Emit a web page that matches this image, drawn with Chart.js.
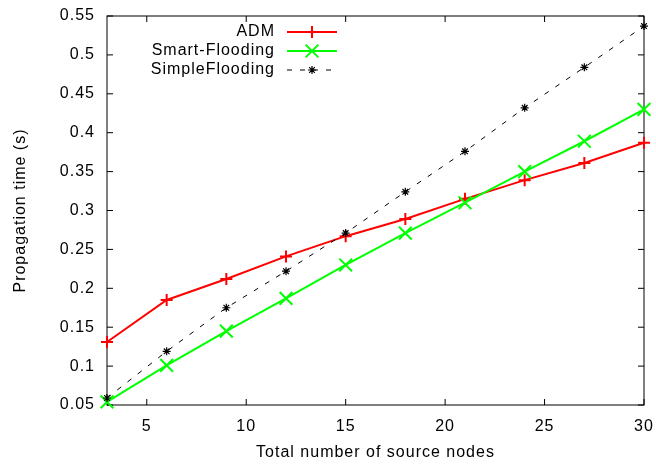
<!DOCTYPE html>
<html>
<head>
<meta charset="utf-8">
<script src="https://cdn.jsdelivr.net/npm/chart.js@4.4.0/dist/chart.umd.min.js"></script>
<style>
  html, body { margin: 0; padding: 0; background: #fff; }
</style>
</head>
<body>
<canvas id="chart" width="656" height="466"></canvas>
<script>
const sourceNodes = [3, 6, 9, 12, 15, 18, 21, 24, 27, 30];
const admTime = [0.131, 0.185, 0.212, 0.241, 0.267, 0.289, 0.315, 0.339, 0.361, 0.387];
const smartFloodingTime = [0.054, 0.101, 0.145, 0.187, 0.230, 0.271, 0.310, 0.350, 0.389, 0.430];
const simpleFloodingTime = [0.059, 0.119, 0.175, 0.222, 0.271, 0.324, 0.376, 0.432, 0.484, 0.537];
const xTicks = [5, 10, 15, 20, 25, 30];
const yTicks = [0.05, 0.1, 0.15, 0.2, 0.25, 0.3, 0.35, 0.4, 0.45, 0.5, 0.55];

const font = { family: '"Liberation Sans", Arial, sans-serif', size: 16 };

const toPoints = ys => sourceNodes.map((x, i) => ({ x, y: ys[i] }));

// scales keep no extra room for edge labels, layout.padding decides
const noEdgePadding = s => {
  s.paddingTop = s.paddingBottom = s.paddingLeft = s.paddingRight = 0;
};

// gnuplot-like box with inward ticks on all four sides
const frame = {
  id: 'frame',
  beforeDraw(chart) {
    chart.ctx.letterSpacing = '1px';
  },
  beforeDatasetsDraw(chart) {
    const { ctx, chartArea: a, scales: { x, y } } = chart;
    const len = 6;
    ctx.save();
    ctx.strokeStyle = '#000';
    ctx.lineWidth = 1;
    ctx.strokeRect(a.left, a.top, a.width, a.height);
    ctx.beginPath();
    x.ticks.forEach(t => {
      const px = x.getPixelForValue(t.value);
      ctx.moveTo(px, a.bottom); ctx.lineTo(px, a.bottom - len);
      ctx.moveTo(px, a.top); ctx.lineTo(px, a.top + len);
    });
    y.ticks.forEach(t => {
      const py = y.getPixelForValue(t.value);
      ctx.moveTo(a.left, py); ctx.lineTo(a.left + len, py);
      ctx.moveTo(a.right, py); ctx.lineTo(a.right - len, py);
    });
    ctx.stroke();
    ctx.restore();
  },
  afterDraw(chart) {
    // key: text right-aligned, sample line to the right of it
    const { ctx, chartArea: a } = chart;
    const textRight = a.left + 168;
    ctx.save();
    ctx.font = `${font.size}px ${font.family}`;
    ctx.letterSpacing = '1px';
    ctx.textAlign = 'right';
    ctx.textBaseline = 'middle';
    chart.data.datasets.forEach((ds, i) => {
      const yy = a.top + 16 + i * 19;
      ctx.fillStyle = '#000';
      ctx.fillText(ds.label, textRight, yy);
      const x0 = textRight + 12, x1 = x0 + 50;
      ctx.strokeStyle = ds.borderColor;
      ctx.lineWidth = ds.borderWidth;
      ctx.setLineDash(ds.borderDash || []);
      ctx.beginPath();
      ctx.moveTo(x0, yy); ctx.lineTo(x1, yy);
      ctx.stroke();
      ctx.setLineDash([]);
      ctx.lineWidth = ds.pointBorderWidth;
      ctx.fillStyle = ds.borderColor;
      Chart.helpers.drawPoint(ctx, {
        pointStyle: ds.pointStyle, radius: ds.pointRadius, rotation: 0, borderWidth: ds.pointBorderWidth
      }, (x0 + x1) / 2, yy);
    });
    ctx.restore();
  }
};

new Chart(document.getElementById('chart'), {
  type: 'line',
  data: {
    datasets: [{
      label: 'ADM',
      data: toPoints(admTime),
      borderColor: '#ff0000',
      backgroundColor: '#ff0000',
      borderWidth: 2,
      pointStyle: 'cross',
      pointRadius: 6,
      pointBorderWidth: 2,
      order: 2
    },
    {
      label: 'Smart-Flooding',
      data: toPoints(smartFloodingTime),
      borderColor: '#00ff00',
      backgroundColor: '#00ff00',
      borderWidth: 2,
      pointStyle: 'crossRot',
      pointRadius: 9,
      pointBorderWidth: 2,
      order: 1
    },
    {
      label: 'SimpleFlooding',
      data: toPoints(simpleFloodingTime),
      borderColor: '#000000',
      backgroundColor: '#000000',
      borderWidth: 1,
      borderDash: [5, 8],
      pointStyle: 'star',
      pointRadius: 4,
      pointBorderWidth: 1.2,
      order: 0
    }]
  },
  options: {
    responsive: false,
    animation: false,
    clip: false,
    layout: { padding: { top: 16, right: 12, left: 0, bottom: 0 } },
    elements: { line: { tension: 0, fill: false } },
    plugins: {
      legend: { display: false },
      tooltip: { enabled: false }
    },
    scales: {
      x: {
        type: 'linear',
        min: 3,
        max: 30,
        afterBuildTicks: s => { s.ticks = xTicks.map(value => ({ value })); },
        afterFit: s => { s.height = 61; noEdgePadding(s); },
        grid: { display: false, drawTicks: false },
        border: { display: false },
        ticks: { font, color: '#000', padding: 12, maxRotation: 0 },
        title: {
          display: true,
          text: 'Total number of source nodes',
          font, color: '#000',
          padding: { top: 0, bottom: 4 }
        }
      },
      y: {
        type: 'linear',
        min: 0.05,
        max: 0.55,
        afterBuildTicks: s => { s.ticks = yTicks.map(value => ({ value })); },
        afterFit: s => { s.width = 107; noEdgePadding(s); },
        grid: { display: false, drawTicks: false },
        border: { display: false },
        ticks: { font, color: '#000', padding: 12, callback: v => String(Number(v.toFixed(2))) },
        title: {
          display: true,
          text: 'Propagation time (s)',
          font, color: '#000',
          padding: { top: 11, bottom: 0 }
        }
      }
    }
  },
  plugins: [frame]
});
</script>
</body>
</html>
